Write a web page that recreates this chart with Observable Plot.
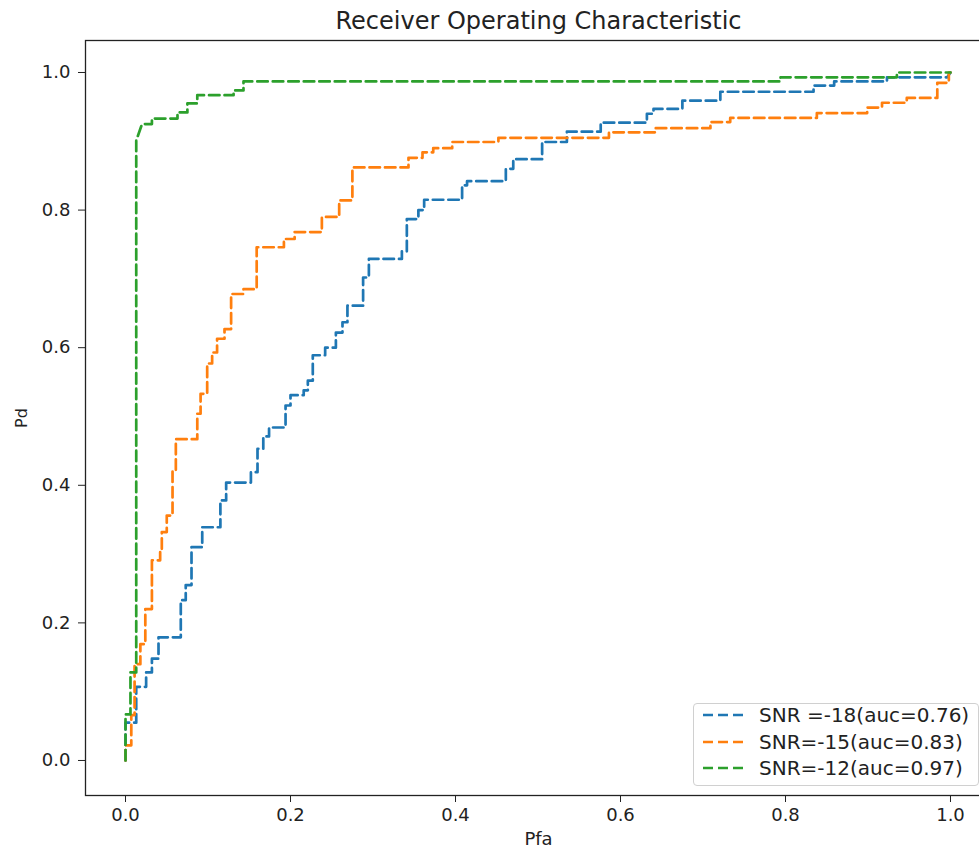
<!DOCTYPE html>
<html>
<head>
<meta charset="utf-8">
<script src="https://cdn.jsdelivr.net/npm/d3@7"></script>
<script src="https://cdn.jsdelivr.net/npm/@observablehq/plot@0.6"></script>
<style>
  html, body { margin: 0; padding: 0; overflow: hidden; background: #fff; }
  #wrap { position: relative; width: 979px; height: 849px; overflow: hidden; }
  #wrap > svg { max-width: none !important; width: 992px !important; height: 849px !important; display: block; }
  #legend {
    position: absolute; left: 693px; top: 703px; width: 286px; height: 83px;
    border: 1px solid #d0d0d0; border-radius: 4px; background: rgba(255,255,255,0.85);
    box-sizing: border-box; font-family: "DejaVu Sans", sans-serif; font-size: 20px; color: #222;
  }
  #legend .row { position: absolute; left: 0; height: 22px; width: 100%; }
  #legend svg { position: absolute; left: 8px; top: 0; }
  #legend span { position: absolute; left: 65px; top: 0; line-height: 22px; white-space: nowrap; }
</style>
</head>
<body>
<div id="wrap"></div>
<script>
// ---- data ----
const seriesNames = ["SNR =-18(auc=0.76)", "SNR=-15(auc=0.83)", "SNR=-12(auc=0.97)"];

const fprA = [0, 0, 0.013, 0.013, 0.025, 0.025, 0.032, 0.032, 0.040, 0.040, 0.067, 0.067, 0.073, 0.073, 0.080, 0.080, 0.093, 0.093, 0.115, 0.115, 0.122, 0.122, 0.152, 0.152, 0.160, 0.160, 0.167, 0.167, 0.174, 0.174, 0.194, 0.194, 0.200, 0.200, 0.216, 0.216, 0.221, 0.221, 0.227, 0.227, 0.242, 0.242, 0.255, 0.255, 0.263, 0.263, 0.269, 0.269, 0.288, 0.288, 0.295, 0.295, 0.335, 0.335, 0.341, 0.341, 0.355, 0.355, 0.362, 0.362, 0.408, 0.408, 0.414, 0.414, 0.461, 0.461, 0.470, 0.470, 0.505, 0.505, 0.535, 0.535, 0.576, 0.576, 0.632, 0.632, 0.640, 0.640, 0.675, 0.675, 0.721, 0.721, 0.834, 0.834, 0.859, 0.859, 0.923, 0.923, 0.996, 1.0];
const tprA = [0, 0.055, 0.055, 0.107, 0.107, 0.128, 0.128, 0.148, 0.148, 0.179, 0.179, 0.233, 0.233, 0.255, 0.255, 0.310, 0.310, 0.339, 0.339, 0.378, 0.378, 0.404, 0.404, 0.419, 0.419, 0.453, 0.453, 0.471, 0.471, 0.484, 0.484, 0.516, 0.516, 0.531, 0.531, 0.538, 0.538, 0.552, 0.552, 0.589, 0.589, 0.600, 0.600, 0.622, 0.622, 0.637, 0.637, 0.661, 0.661, 0.702, 0.702, 0.729, 0.729, 0.740, 0.740, 0.787, 0.787, 0.800, 0.800, 0.815, 0.815, 0.836, 0.836, 0.842, 0.842, 0.860, 0.860, 0.874, 0.874, 0.899, 0.899, 0.914, 0.914, 0.927, 0.927, 0.940, 0.940, 0.947, 0.947, 0.959, 0.959, 0.972, 0.972, 0.981, 0.981, 0.987, 0.987, 0.993, 0.993, 1.0];

const fprB = [0, 0, 0.007, 0.007, 0.011, 0.011, 0.018, 0.018, 0.024, 0.024, 0.032, 0.032, 0.042, 0.042, 0.044, 0.044, 0.050, 0.050, 0.057, 0.057, 0.061, 0.061, 0.087, 0.087, 0.091, 0.091, 0.099, 0.099, 0.105, 0.105, 0.111, 0.111, 0.120, 0.120, 0.128, 0.128, 0.143, 0.143, 0.159, 0.159, 0.192, 0.192, 0.205, 0.205, 0.238, 0.238, 0.259, 0.259, 0.275, 0.275, 0.343, 0.343, 0.360, 0.360, 0.373, 0.373, 0.396, 0.396, 0.452, 0.452, 0.586, 0.586, 0.642, 0.642, 0.709, 0.709, 0.733, 0.733, 0.838, 0.838, 0.899, 0.899, 0.917, 0.917, 0.947, 0.947, 0.984, 0.984, 0.998, 0.998, 1.0];
const tprB = [0, 0.022, 0.022, 0.066, 0.066, 0.140, 0.140, 0.169, 0.169, 0.220, 0.220, 0.291, 0.291, 0.307, 0.307, 0.332, 0.332, 0.356, 0.356, 0.422, 0.422, 0.467, 0.467, 0.504, 0.504, 0.533, 0.533, 0.577, 0.577, 0.593, 0.593, 0.613, 0.613, 0.627, 0.627, 0.678, 0.678, 0.685, 0.685, 0.746, 0.746, 0.758, 0.758, 0.768, 0.768, 0.790, 0.790, 0.814, 0.814, 0.862, 0.862, 0.876, 0.876, 0.884, 0.884, 0.890, 0.890, 0.899, 0.899, 0.905, 0.905, 0.913, 0.913, 0.919, 0.919, 0.928, 0.928, 0.934, 0.934, 0.941, 0.941, 0.949, 0.949, 0.956, 0.956, 0.963, 0.963, 0.985, 0.985, 1.0, 1.0];

const fprC = [0, 0, 0.006, 0.006, 0.013, 0.013, 0.020, 0.032, 0.032, 0.063, 0.063, 0.075, 0.075, 0.087, 0.087, 0.131, 0.131, 0.143, 0.143, 0.794, 0.794, 0.935, 0.935, 1.0];
const tprC = [0, 0.067, 0.067, 0.128, 0.128, 0.901, 0.925, 0.925, 0.933, 0.933, 0.942, 0.942, 0.955, 0.955, 0.967, 0.967, 0.974, 0.974, 0.987, 0.987, 0.993, 0.993, 1.0, 1.0];

const xTicks = [0.0, 0.2, 0.4, 0.6, 0.8, 1.0];
const yTicks = [0.0, 0.2, 0.4, 0.6, 0.8, 1.0];
const titleText = "Receiver Operating Characteristic";
const xLabel = "Pfa";
const yLabel = "Pd";

// ---- styles ----
const colors = ["#1f77b4", "#ff7f0e", "#2ca02c"];
const dash = "10.5,5";
const font = "'DejaVu Sans', sans-serif";

const seriesData = [[fprA, tprA], [fprB, tprB], [fprC, tprC]];
const rows = seriesData.flatMap(([fx, ty], i) => fx.map((v, j) => ({series: seriesNames[i], fpr: v, tpr: ty[j]})));

const chart = Plot.plot({
  width: 992,
  height: 849,
  marginLeft: 85,
  marginRight: 1,
  marginTop: 40,
  marginBottom: 54,
  style: {fontFamily: font, fontSize: "18px", color: "#222", background: "#fff"},
  x: {domain: [-0.0485, 1.0497]},
  y: {domain: [-0.0509, 1.0465]},
  color: {domain: seriesNames, range: colors},
  marks: [
    Plot.axisX({ticks: xTicks, tickFormat: d3.format(".1f"), tickSize: 7, tickPadding: 6, label: null, stroke: "#222", fontSize: 18}),
    Plot.axisY({ticks: yTicks, tickFormat: d3.format(".1f"), tickSize: 7, tickPadding: 8, label: null, stroke: "#222", fontSize: 18}),
    Plot.line(rows, {x: "fpr", y: "tpr", z: "series", stroke: "series", strokeWidth: 2.7, strokeDasharray: dash, curve: "linear"}),
    Plot.frame({stroke: "#222", strokeWidth: 1.3}),
    Plot.text([titleText], {text: d => d, frameAnchor: "top", lineAnchor: "middle", textAnchor: "middle", dy: -19.5, fontSize: 24, fill: "#222"}),
    Plot.text([xLabel], {text: d => d, frameAnchor: "bottom", lineAnchor: "middle", textAnchor: "middle", dy: 44, fontSize: 18, fill: "#222"}),
    Plot.text([yLabel], {text: d => d, frameAnchor: "left", lineAnchor: "middle", textAnchor: "middle", dx: -64, rotate: -90, fontSize: 16, fill: "#222"})
  ]
});

const wrap = document.getElementById("wrap");
wrap.appendChild(chart);

// legend (inside axes, lower right)
const legend = document.createElement("div");
legend.id = "legend";
const rowTops = [0, 27, 53];
seriesNames.forEach((name, i) => {
  const row = document.createElement("div");
  row.className = "row";
  row.style.top = rowTops[i] + "px";
  row.innerHTML = `<svg width="44" height="22"><line x1="1" y1="11" x2="41" y2="11" stroke="${colors[i]}" stroke-width="2.6" stroke-dasharray="10,5"/></svg><span>${name}</span>`;
  legend.appendChild(row);
});
wrap.appendChild(legend);
</script>
</body>
</html>
